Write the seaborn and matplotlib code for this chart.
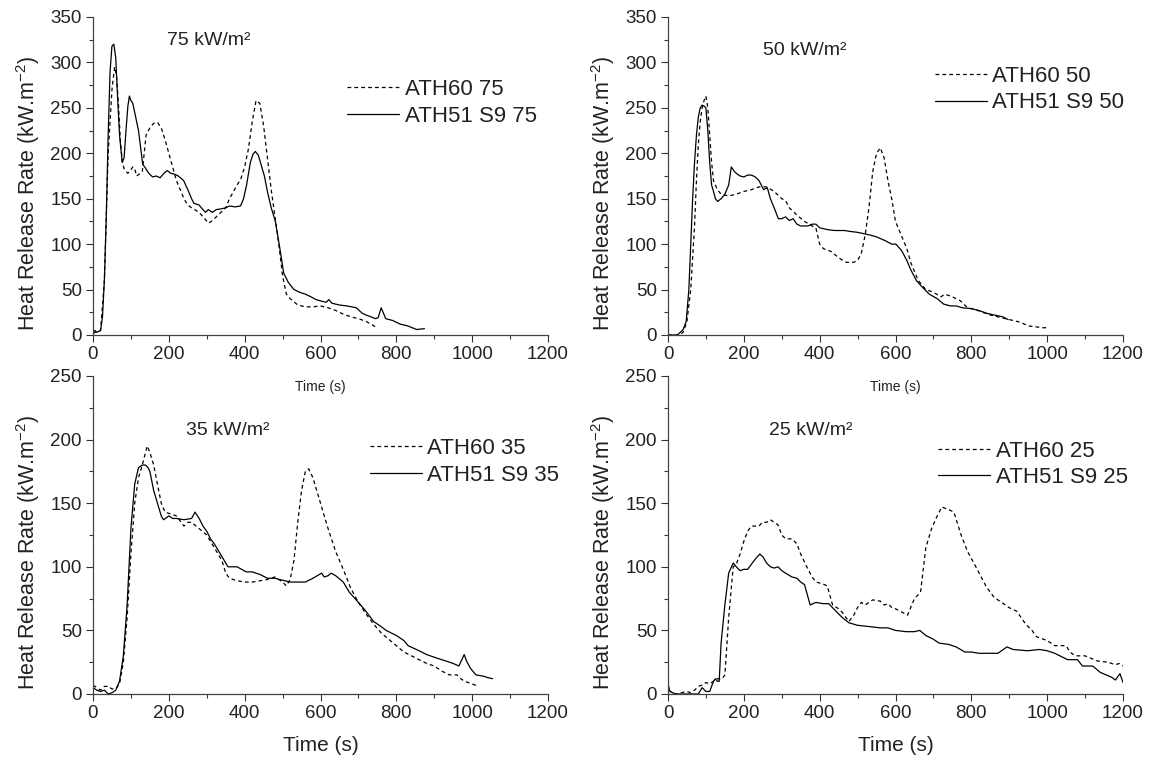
import numpy as np
import pandas as pd
import matplotlib
matplotlib.use("Agg")
import matplotlib.pyplot as plt
from matplotlib.ticker import MultipleLocator
import seaborn as sns

# ---------------- data ----------------
# 75 kW/m2
t75_ath60 = [0, 20, 30, 40, 50, 57, 62, 67, 72, 77, 82, 87, 92, 100, 105, 110, 115, 125, 130, 135, 140, 150, 160,
             170, 180, 190, 200, 210, 220, 230, 240, 250, 260, 280, 305, 315, 330, 350, 360, 380, 390, 400, 410,
             420, 430, 440, 450, 460, 470, 480, 490, 500, 510, 520, 540, 560, 580, 600, 620, 640, 660, 680, 700,
             720, 745]
q75_ath60 = [2, 5, 60, 200, 270, 295, 285, 255, 215, 192, 183, 180, 178, 182, 185, 183, 175, 178, 180, 200, 220,
             228, 233, 234, 228, 215, 200, 185, 170, 160, 150, 143, 140, 135, 123, 126, 132, 140, 150, 165, 172, 185,
             205, 235, 258, 255, 230, 195, 160, 130, 100, 65, 45, 40, 33, 31, 31, 32, 30, 27, 23, 20, 18, 15, 9]
t75_ath51 = [0, 5, 10, 20, 25, 30, 35, 40, 45, 50, 55, 60, 65, 70, 77, 82, 87, 92, 96, 100, 105, 110, 120, 131,
             138, 147, 157, 167, 177, 187, 196, 205, 215, 225, 239, 250, 260, 266, 280, 290, 297, 304, 315, 325,
             340, 350, 360, 375, 389, 397, 405, 415, 422, 428, 436, 445, 452, 460, 470, 481, 491, 503, 515, 530,
             545, 560, 575, 588, 605, 615, 622, 630, 650, 670, 694, 710, 720, 733, 745, 752, 760, 766, 772, 790,
             810, 830, 854, 874]
q75_ath51 = [3, 5, 3, 5, 20, 60, 130, 220, 290, 318, 320, 305, 260, 220, 190, 195, 225, 252, 263, 258, 255, 245,
             225, 188, 184, 178, 174, 175, 173, 178, 181, 178, 177, 175, 170, 160, 150, 145, 143, 138, 135, 138,
             135, 138, 139, 140, 142, 141, 142, 150, 165, 190, 199, 202, 198, 185, 175, 158, 140, 125, 100, 68,
             58, 50, 47, 45, 42, 39, 37, 36, 39, 35, 33, 32, 30, 24, 22, 20, 18, 19, 30, 24, 18, 16, 12, 10, 6, 7]

# 50 kW/m2
t50_ath60 = [0, 30, 40, 50, 60, 70, 75, 80, 85, 90, 95, 100, 105, 110, 115, 120, 130, 140, 160, 180, 200, 220,
             240, 260, 280, 300, 310, 320, 340, 360, 380, 390, 400, 410, 430, 450, 470, 490, 500, 510, 520, 530,
             540, 550, 560, 570, 580, 590, 600, 610, 620, 630, 640, 650, 660, 670, 680, 700, 720, 730, 750, 770,
             790, 810, 830, 850, 870, 890, 910, 930, 950, 970, 990, 1000]
q50_ath60 = [0, 0, 3, 15, 50, 120, 170, 210, 235, 250, 258, 263, 250, 220, 190, 170, 160, 155, 153, 155, 158,
             160, 163, 163, 158, 150, 148, 140, 132, 125, 120, 118, 100, 95, 92, 85, 80, 80, 82, 90, 110, 140, 180,
             200, 206, 195, 170, 150, 125, 115, 105, 95, 80, 70, 60, 55, 50, 47, 42, 45, 42, 38, 30, 28, 25, 22,
             20, 18, 16, 14, 10, 9, 8, 8]
t50_ath51 = [0, 25, 30, 40, 48, 55, 60, 65, 70, 75, 80, 85, 90, 95, 100, 105, 110, 115, 120, 125, 131, 140, 150,
             160, 167, 175, 180, 190, 200, 210, 220, 230, 240, 252, 262, 270, 280, 291, 300, 310, 320, 330, 340,
             350, 369, 380, 390, 400, 420, 440, 466, 480, 500, 533, 550, 572, 590, 601, 616, 630, 640, 655, 670,
             689, 710, 727, 745, 760, 776, 800, 820, 840, 860, 883, 897]
q50_ath51 = [0, 0, 2, 6, 15, 50, 100, 150, 190, 220, 240, 250, 253, 252, 250, 225, 190, 165, 158, 150, 147, 150,
             155, 165, 185, 180, 178, 175, 174, 176, 176, 174, 170, 160, 162, 150, 140, 128, 128, 130, 126, 128,
             122, 120, 120, 122, 122, 118, 116, 115, 115, 114, 113, 110, 108, 104, 100, 100, 93, 82, 72, 60, 53,
             45, 40, 34, 32, 32, 30, 29, 27, 24, 22, 20, 17]

# 35 kW/m2
t35_ath60 = [0, 10, 20, 30, 40, 50, 60, 70, 80, 90, 100, 110, 120, 130, 143, 150, 160, 170, 180, 190, 200, 220,
             240, 250, 260, 280, 300, 320, 340, 350, 360, 380, 400, 420, 440, 460, 480, 500, 510, 520, 530, 540,
             550, 560, 569, 580, 600, 620, 640, 660, 680, 700, 720, 740, 760, 780, 800, 820, 840, 860, 880, 900,
             920, 940, 960, 970, 980, 1000, 1015]
q35_ath60 = [7, 5, 3, 6, 6, 4, 4, 8, 25, 60, 110, 150, 170, 180, 195, 190, 180, 165, 150, 143, 142, 140, 132, 135,
             135, 130, 125, 115, 105, 95, 91, 89, 88, 88, 89, 90, 92, 88, 85, 90, 105, 135, 160, 175, 177, 170,
             150, 130, 112, 98, 83, 72, 63, 55, 48, 43, 38, 33, 30, 27, 24, 22, 18, 15, 15, 12, 10, 8, 6]
t35_ath51 = [0, 10, 20, 30, 40, 50, 60, 70, 80, 90, 100, 110, 120, 130, 138, 145, 150, 160, 170, 180, 186, 200,
             210, 220, 240, 260, 269, 280, 290, 300, 310, 320, 340, 356, 380, 404, 420, 440, 460, 480, 492, 520,
             540, 560, 580, 603, 610, 620, 628, 640, 660, 676, 700, 720, 740, 760, 773, 800, 820, 831, 860, 880,
             909, 930, 950, 965, 979, 985, 996, 1010, 1030, 1040, 1054]
q35_ath51 = [5, 3, 2, 3, 0, 1, 3, 10, 30, 70, 130, 165, 178, 180, 180, 178, 175, 160, 150, 140, 137, 140, 138,
             138, 137, 138, 143, 138, 132, 128, 122, 118, 108, 100, 100, 96, 96, 94, 91, 91, 90, 88, 88, 88, 91, 95,
             92, 93, 95, 93, 88, 80, 72, 65, 57, 53, 50, 46, 42, 38, 34, 31, 28, 26, 24, 22, 31, 26, 20, 15, 14,
             13, 12]

# 25 kW/m2
t25_ath60 = [0, 20, 50, 60, 70, 80, 90, 100, 110, 120, 130, 143, 150, 160, 172, 180, 190, 200, 210, 220, 240, 249,
             260, 270, 280, 290, 300, 310, 327, 340, 350, 366, 380, 390, 404, 420, 434, 450, 460, 477, 490, 500,
             510, 520, 540, 560, 570, 580, 590, 600, 632, 640, 650, 666, 680, 695, 710, 722, 740, 754, 773, 790,
             812, 840, 860, 880, 899, 920, 943, 960, 972, 1000, 1020, 1045, 1050, 1060, 1074, 1100, 1132, 1160,
             1180, 1190, 1200]
q25_ath60 = [3, 0, 2, 1, 3, 6, 7, 9, 8, 10, 12, 12, 15, 60, 100, 102, 110, 120, 128, 132, 132, 135, 135, 137,
             135, 133, 125, 122, 122, 118, 110, 100, 92, 88, 87, 85, 70, 67, 64, 57, 62, 68, 72, 70, 74, 73, 70,
             71, 68, 67, 62, 68, 75, 80, 115, 130, 140, 147, 145, 143, 125, 112, 100, 84, 76, 72, 68, 65, 55, 50,
             45, 42, 38, 38, 38, 33, 30, 30, 26, 25, 23, 24, 22]
t25_ath51 = [0, 5, 20, 50, 80, 90, 100, 110, 120, 125, 130, 135, 140, 150, 160, 172, 180, 190, 200, 210, 220,
             230, 242, 250, 260, 270, 280, 290, 300, 310, 327, 340, 350, 360, 375, 390, 410, 424, 440, 460, 477,
             500, 531, 560, 580, 600, 628, 650, 664, 680, 700, 715, 740, 760, 783, 800, 820, 851, 870, 894, 910,
             948, 980, 1000, 1020, 1054, 1080, 1093, 1120, 1140, 1171, 1180, 1192, 1200]
q25_ath51 = [8, 2, 0, 0, 0, 5, 2, 2, 10, 12, 10, 10, 40, 70, 95, 103, 100, 97, 98, 98, 102, 106, 110, 108, 103,
             100, 99, 100, 97, 95, 92, 91, 88, 86, 70, 72, 71, 71, 66, 60, 56, 54, 53, 52, 52, 50, 49, 49, 50, 46,
             43, 40, 39, 37, 33, 33, 32, 32, 32, 37, 35, 34, 35, 34, 32, 27, 27, 22, 22, 17, 13, 11, 16, 9]

flux_labels = ["75 kW/m²", "50 kW/m²", "35 kW/m²", "25 kW/m²"]
legend_ath60 = ["ATH60 75", "ATH60 50", "ATH60 35", "ATH60 25"]
legend_ath51 = ["ATH51 S9 75", "ATH51 S9 50", "ATH51 S9 35", "ATH51 S9 25"]

# ---------------- style ----------------
sns.set_style("ticks")
plt.rcParams["font.family"] = ["Liberation Sans", "DejaVu Sans"]
plt.rcParams["mathtext.default"] = "regular"
TXT = "#222222"
plt.rcParams["text.color"] = TXT
plt.rcParams["axes.labelcolor"] = TXT
plt.rcParams["xtick.color"] = "#333333"
plt.rcParams["ytick.color"] = "#333333"
plt.rcParams["xtick.labelcolor"] = TXT
plt.rcParams["ytick.labelcolor"] = TXT

fig = plt.figure(figsize=(11.5, 7.61), dpi=100)
W, H = 1150, 761
axw = 455 / W
axh = 318 / H
positions = [
    (93 / W, 1 - 335 / H, axw, axh),
    (668 / W, 1 - 335 / H, axw, axh),
    (93 / W, 1 - 694 / H, axw, axh),
    (668 / W, 1 - 694 / H, axw, axh),
]

datasets = [
    (t75_ath60, q75_ath60, t75_ath51, q75_ath51),
    (t50_ath60, q50_ath60, t50_ath51, q50_ath51),
    (t35_ath60, q35_ath60, t35_ath51, q35_ath51),
    (t25_ath60, q25_ath60, t25_ath51, q25_ath51),
]
ymax = [350, 350, 250, 250]
flux_pos = [(0.163, 0.925), (0.209, 0.895), (0.204, 0.830), (0.222, 0.830)]
leg_pos = [(0.558, 0.730), (0.586, 0.772), (0.608, 0.730), (0.594, 0.722)]

for i in range(4):
    ax = fig.add_axes(positions[i])
    ax.set_facecolor("none")
    ta, qa, tb, qb = datasets[i]
    df_a = pd.DataFrame({"t": ta, "q": qa})
    df_b = pd.DataFrame({"t": tb, "q": qb})
    sns.lineplot(data=df_a, x="t", y="q", ax=ax, color="black", lw=0.9,
                 linestyle=(0, (3, 2.5)), label=legend_ath60[i], sort=False)
    sns.lineplot(data=df_b, x="t", y="q", ax=ax, color="black", lw=0.9,
                 linestyle="-", label=legend_ath51[i], sort=False)
    ax.set_xlim(0, 1200)
    ax.set_ylim(0, ymax[i])
    ax.xaxis.set_major_locator(MultipleLocator(200))
    ax.xaxis.set_minor_locator(MultipleLocator(100))
    ax.yaxis.set_major_locator(MultipleLocator(50))
    ax.yaxis.set_minor_locator(MultipleLocator(25))
    ax.tick_params(which="major", direction="out", length=5, width=0.8, labelsize=13.5, pad=3)
    ax.tick_params(which="minor", direction="out", length=3, width=0.8)
    for s in ["left", "bottom"]:
        ax.spines[s].set_color("#444444")
        ax.spines[s].set_linewidth(0.9)
    sns.despine(ax=ax)
    ax.set_ylabel("Heat Release Rate (kW.m$^{-2}$)", fontsize=15.5)
    ax.yaxis.set_label_coords(-0.112, 0.447)
    if i < 2:
        ax.set_xlabel("Time (s)", fontsize=10, labelpad=12)
    else:
        ax.set_xlabel("Time (s)", fontsize=15, labelpad=10)
    ax.text(flux_pos[i][0], flux_pos[i][1], flux_labels[i], transform=ax.transAxes,
            fontsize=14, ha="left", va="center", color=TXT)
    ax.legend(loc="center left", bbox_to_anchor=(leg_pos[i][0], leg_pos[i][1]),
              frameon=False, fontsize=16, handlelength=2.35, handletextpad=0.25,
              labelspacing=0.25, borderaxespad=0, borderpad=0)

fig.savefig("out.png", dpi=100)
